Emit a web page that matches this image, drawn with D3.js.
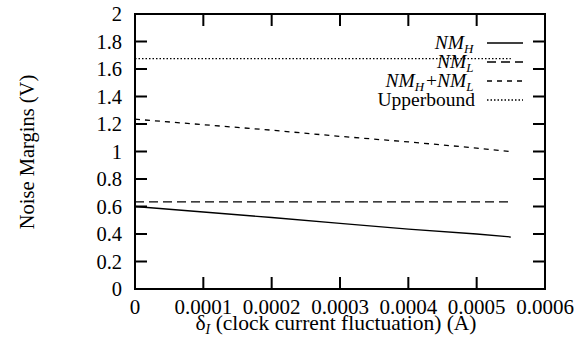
<!DOCTYPE html>
<html><head><meta charset="utf-8"><script src="https://cdn.jsdelivr.net/npm/d3@7"></script></head>
<body style="margin:0">
<script>
// data
const deltaI = [0, 0.0001, 0.0002, 0.0003, 0.0004, 0.0005, 0.00055];
const nmH = [0.60, 0.56, 0.52, 0.478, 0.436, 0.40, 0.378];
const nmL = [0.633, 0.633, 0.633, 0.633, 0.633, 0.633, 0.633];
const nmSum = [1.235, 1.195, 1.155, 1.11, 1.07, 1.025, 1.0];
const upper = [1.675, 1.675, 1.675, 1.675, 1.675, 1.675, 1.675];
const xTicks = [0, 0.0001, 0.0002, 0.0003, 0.0004, 0.0005, 0.0006];
const yTicks = [0, 0.2, 0.4, 0.6, 0.8, 1, 1.2, 1.4, 1.6, 1.8, 2];

const width = 587, height = 341;
const margin = {top: 14, right: 42, bottom: 52, left: 135};
const w = width - margin.left - margin.right;
const h = height - margin.top - margin.bottom;
const serif = 'Liberation Serif';

const svg = d3.select('body').append('svg')
  .attr('width', width)
  .attr('height', height)
  .attr('font-family', serif);

const g = svg.append('g')
  .attr('transform', 'translate(' + margin.left + ',' + margin.top + ')');

const x = d3.scaleLinear().domain([0, 0.0006]).range([0, w]);
const y = d3.scaleLinear().domain([0, 2]).range([h, 0]);

const tickLen = 12;

// frame
g.append('rect')
  .attr('width', w).attr('height', h)
  .attr('fill', 'none').attr('stroke', '#000').attr('stroke-width', 2);

// inward ticks on all four sides
g.selectAll('.yt').data(yTicks.slice(1, -1)).enter().append('path')
  .attr('d', d => 'M0,' + y(d) + 'h' + tickLen + 'M' + w + ',' + y(d) + 'h' + (-tickLen))
  .attr('stroke', '#000').attr('stroke-width', 2);
g.selectAll('.xt').data(xTicks.slice(1, -1)).enter().append('path')
  .attr('d', d => 'M' + x(d) + ',' + h + 'v' + (-tickLen) + 'M' + x(d) + ',0v' + tickLen)
  .attr('stroke', '#000').attr('stroke-width', 2);

// tick labels
g.selectAll('.yl').data(yTicks).enter().append('text')
  .attr('x', -13).attr('y', d => y(d) + 7)
  .attr('text-anchor', 'end')
  .style('font-family', serif)
  .style('font-size', '20.5px')
  .text(d => d3.format('~g')(d));
g.selectAll('.xl').data(xTicks).enter().append('text')
  .attr('x', d => x(d)).attr('y', h + 25)
  .attr('text-anchor', 'middle')
  .style('font-family', serif)
  .style('font-size', '21px')
  .text(d => d === 0 ? '0' : d.toFixed(4));

// axis titles
const xt = g.append('text')
  .attr('x', x(0.0003) - 4).attr('y', h + 41)
  .attr('text-anchor', 'middle')
  .style('font-family', serif)
  .style('font-size', '21.5px');
xt.append('tspan').text('δ');
xt.append('tspan').attr('dy', 4).style('font-size', '14px').style('font-style', 'italic').text('I');
xt.append('tspan').attr('dy', -4).text(' (clock current fluctuation) (A)');

svg.append('text')
  .attr('transform', 'translate(34,' + (margin.top + 138) + ') rotate(-90)')
  .attr('text-anchor', 'middle')
  .style('font-family', serif)
  .style('font-size', '20.5px')
  .text('Noise Margins (V)');

// series
const series = [
  {name: 'NM_H', values: nmH, dash: null},
  {name: 'NM_L', values: nmL, dash: '9,5'},
  {name: 'NM_H+NM_L', values: nmSum, dash: '5,5'},
  {name: 'Upperbound', values: upper, dash: '1.5,2'}
];

const line = d3.line()
  .x((d, i) => x(deltaI[i]))
  .y(d => y(d));

g.selectAll('.series').data(series).enter().append('path')
  .attr('d', d => line(d.values))
  .attr('fill', 'none')
  .attr('stroke', '#000')
  .attr('stroke-width', 1.3)
  .attr('stroke-dasharray', d => d.dash);

// legend
const legend = g.append('g').attr('transform', 'translate(' + (475 - margin.left) + ',' + (43 - margin.top) + ')');
const rows = legend.selectAll('.row').data(series).enter().append('g')
  .attr('transform', (d, i) => 'translate(0,' + (i * 19) + ')');

rows.append('path')
  .attr('d', 'M12,0h36')
  .attr('stroke', '#000')
  .attr('stroke-width', 1.3)
  .attr('stroke-dasharray', d => d.dash);

function nm(sel, sub) {
  sel.append('tspan').style('font-style', 'italic').text('NM');
  sel.append('tspan').attr('dy', 4).style('font-size', '13px').style('font-style', 'italic').text(sub);
  sel.append('tspan').attr('dy', -4).text('\u200a');
}

rows.append('text')
  .attr('x', 0).attr('y', 6)
  .attr('text-anchor', 'end')
  .style('font-family', serif)
  .style('font-size', '19.5px')
  .each(function(d) {
    const t = d3.select(this);
    if (d.name === 'NM_H') nm(t, 'H');
    else if (d.name === 'NM_L') nm(t, 'L');
    else if (d.name === 'NM_H+NM_L') {
      nm(t, 'H');
      t.append('tspan').text('+');
      nm(t, 'L');
    } else t.text(d.name);
  });
</script>
</body>
</html>
